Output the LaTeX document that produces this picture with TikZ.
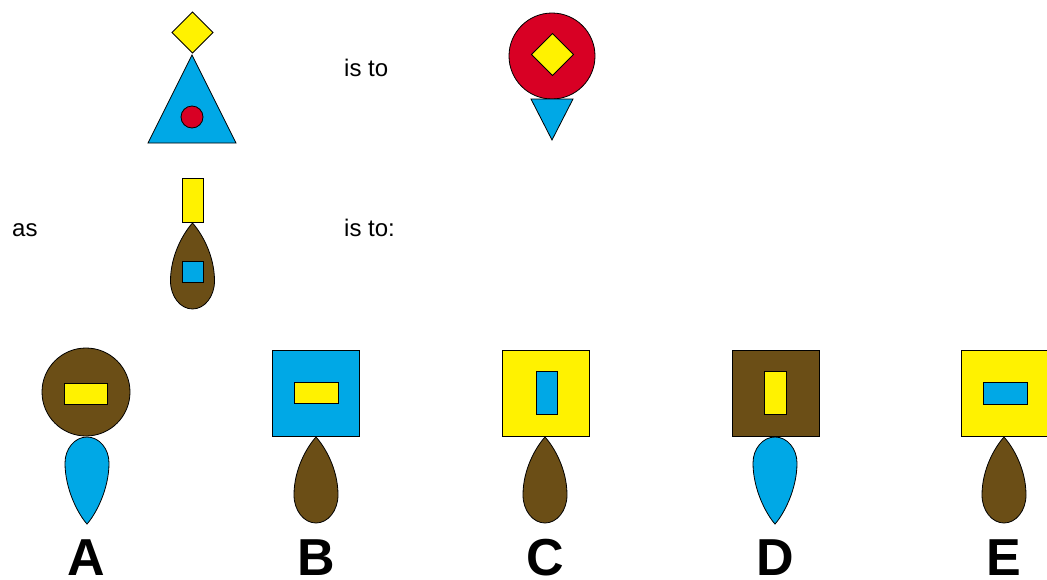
\documentclass[tikz,border=0pt]{standalone}
\usepackage{fontspec}
\setmainfont{Liberation Sans}
\definecolor{qyellow}{RGB}{255,242,0}
\definecolor{qblue}{RGB}{0,168,230}
\definecolor{qred}{RGB}{216,0,36}
\definecolor{qbrown}{RGB}{107,78,22}
\tikzset{
  shp/.style={draw=black, line width=0.8pt, line join=miter},
  lbl/.style={anchor=base west, inner sep=0pt, font=\fontsize{24}{28}\selectfont},
  letter/.style={anchor=base, inner sep=0pt, font=\fontsize{52}{58}\selectfont\bfseries},
  pics/droptop/.style={code={
    \path[pic actions] (0,0) .. controls (9,10) and (22,32) .. (22,58)
      arc[start angle=0, end angle=180, x radius=22, y radius=28]
      .. controls (-22,32) and (-9,10) .. cycle;}},
  pics/dropbot/.style={code={
    \path[pic actions] (0,87) .. controls (-9,77) and (-22,52) .. (-22,26)
      arc[start angle=180, end angle=360, x radius=22, y radius=26]
      .. controls (22,52) and (9,77) .. cycle;}}
}
\begin{document}
\begin{tikzpicture}[x=1pt, y=-1pt]
\useasboundingbox[fill=white] (0,0) rectangle (1047,579);
% top left figure
\draw[shp, fill=qblue] (192,55) -- (236,143) -- (148,143) -- cycle;
\draw[shp, fill=qyellow] (192.5,12) -- (213,32.5) -- (192.5,53) -- (172,32.5) -- cycle;
\draw[shp, fill=qred] (192,117) circle[radius=11];
\node[lbl] (isto1) at (344,76) {is to};
% top right figure
\draw[shp, fill=qred] (552,56) circle[radius=43];
\draw[shp, fill=qyellow] (552.5,33.5) -- (573.5,54.5) -- (552.5,75.5) -- (531.5,54.5) -- cycle;
\draw[shp, fill=qblue] (531,99) -- (573,99) -- (552,140) -- cycle;
% middle figure
\node[lbl] (as) at (12,236) {as};
\node[lbl] (isto2) at (344,236) {is to:};
\draw[shp, fill=qyellow] (182,178) rectangle (203,222);
\pic[shp, fill=qbrown] (mdrop) at (192.5,223) {droptop};
\draw[shp, fill=qblue] (182,261) rectangle (203,282);
% option A
\draw[shp, fill=qbrown] (86,392) circle[radius=44];
\draw[shp, fill=qyellow] (64,383) rectangle (107,404);
\pic[shp, fill=qblue] (adrop) at (87,437) {dropbot};
\node[letter] (A) at (86,575) {A};
% option B
\draw[shp, fill=qblue] (272,350) rectangle (359,436);
\draw[shp, fill=qyellow] (294,382) rectangle (338,403);
\pic[shp, fill=qbrown] (bdrop) at (316,437) {droptop};
\node[letter] (B) at (316,575) {B};
% option C
\draw[shp, fill=qyellow] (502,350) rectangle (589,436);
\draw[shp, fill=qblue] (536,371) rectangle (557,414);
\pic[shp, fill=qbrown] (cdrop) at (545,437) {droptop};
\node[letter] (C) at (545,575) {C};
% option D
\draw[shp, fill=qbrown] (732,350) rectangle (819,436);
\draw[shp, fill=qyellow] (764,371) rectangle (786,414);
\pic[shp, fill=qblue] (ddrop) at (775,437) {dropbot};
\node[letter] (D) at (775,575) {D};
% option E
\draw[shp, fill=qyellow] (961,350) rectangle (1049,436);
\draw[shp, fill=qblue] (983,382) rectangle (1027,404);
\pic[shp, fill=qbrown] (edrop) at (1004,437) {droptop};
\node[letter] (E) at (1004,575) {E};
\end{tikzpicture}
\end{document}
